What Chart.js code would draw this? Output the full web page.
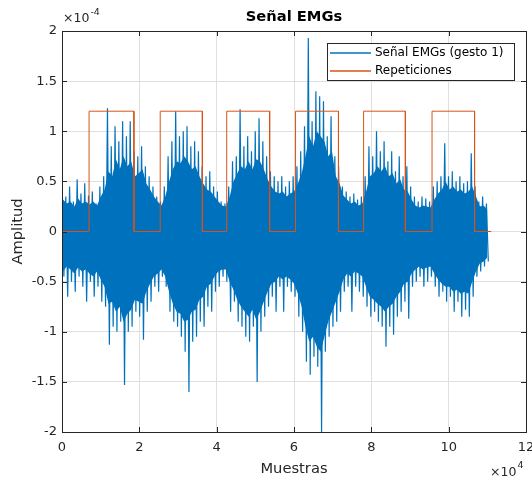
<!DOCTYPE html>
<html><head><meta charset="utf-8">
<script src="https://cdn.jsdelivr.net/npm/chart.js@4.4.1/dist/chart.umd.min.js"></script>
<style>html,body{margin:0;padding:0;background:#fff;}canvas{display:block;}</style>
</head><body>
<canvas id="c" width="532" height="480"></canvas>
<script>
// ---- data (amplitudes in units of 1e-4, x in samples) ----
const xTickLabels = [0, 2, 4, 6, 8, 10, 12];                 // ×10^4 samples
const yTickLabels = [-2, -1.5, -1, -0.5, 0, 0.5, 1, 1.5, 2];  // ×10^-4
const seriesNames = ['Señal EMGs (gesto 1)', 'Repeticiones'];
const sampleStep = 980;   // samples between successive envelope readings
const emgUpper = [0.58,0.35,0.45,0.30,0.52,0.38,0.48,0.36,0.40,0.28,
  0.45,0.55,1.23,0.85,1.05,0.90,1.10,0.95,1.10,0.80,
  0.75,0.85,0.65,0.55,0.45,0.35,0.30,0.45,0.75,0.90,
  1.20,0.95,1.00,1.05,0.85,0.90,0.80,0.65,0.55,0.60,
  0.45,0.40,0.30,0.28,0.45,0.70,0.75,1.22,0.85,0.95,
  0.80,1.00,1.13,0.90,0.75,0.60,0.55,0.50,0.55,0.45,
  0.50,0.55,0.65,0.80,1.05,1.93,1.10,1.40,1.35,1.30,
  0.95,1.15,0.75,0.65,0.45,0.40,0.35,0.38,0.32,0.35,
  0.55,0.85,0.75,1.00,0.80,0.90,0.70,0.80,0.60,0.75,
  0.55,0.65,0.45,0.35,0.30,0.35,0.33,0.30,0.45,0.50,
  0.55,0.88,0.55,0.60,0.50,0.55,0.48,0.50,0.78,0.45,
  0.30,0.35,0.28];
const emgLower = [-0.45,-0.65,-0.50,-0.60,-0.45,-0.55,-0.70,-0.50,-0.65,-0.55,
  -0.70,-0.75,-1.13,-0.95,-1.00,-0.90,-1.53,-1.00,-0.95,-0.80,
  -0.85,-1.08,-0.80,-0.70,-0.55,-0.60,-0.45,-0.55,-0.80,-0.90,
  -0.95,-1.05,-1.20,-1.60,-1.10,-1.05,-0.90,-0.95,-0.75,-0.80,
  -0.60,-0.55,-0.45,-0.50,-0.80,-0.70,-0.90,-0.95,-1.05,-1.10,
  -0.95,-1.50,-1.00,-0.85,-0.75,-0.65,-0.80,-0.55,-0.80,-0.55,
  -0.60,-0.65,-0.85,-1.00,-1.30,-1.43,-1.25,-1.35,-2.03,-1.20,
  -1.05,-0.95,-0.90,-0.80,-0.60,-0.55,-0.80,-0.55,-0.60,-0.65,
  -0.75,-0.85,-0.80,-0.90,-0.95,-1.15,-0.95,-1.03,-0.85,-0.80,
  -0.70,-0.87,-0.55,-0.50,-0.45,-0.55,-0.50,-0.45,-0.55,-0.65,
  -0.60,-0.70,-0.65,-0.80,-0.70,-0.85,-0.78,-0.85,-0.65,-0.45,
  -0.40,-0.35,-0.30];
// edge of the dense (solid-looking) part of the signal
const denseUpper = [0.32,0.28,0.30,0.25,0.33,0.28,0.30,0.27,0.30,0.26,
  0.35,0.42,0.60,0.55,0.72,0.62,0.75,0.65,0.70,0.55,
  0.58,0.62,0.48,0.42,0.35,0.30,0.26,0.35,0.50,0.62,
  0.70,0.68,0.75,0.70,0.62,0.65,0.55,0.48,0.42,0.40,
  0.35,0.30,0.26,0.25,0.35,0.50,0.58,0.65,0.62,0.70,
  0.62,0.72,0.70,0.62,0.52,0.45,0.40,0.38,0.40,0.35,
  0.38,0.40,0.48,0.58,0.75,0.95,0.85,1.00,0.95,0.90,
  0.75,0.80,0.55,0.48,0.36,0.32,0.28,0.30,0.26,0.28,
  0.40,0.55,0.58,0.65,0.60,0.65,0.55,0.58,0.48,0.52,
  0.42,0.40,0.32,0.26,0.24,0.26,0.25,0.24,0.32,0.38,
  0.42,0.50,0.42,0.45,0.40,0.42,0.38,0.40,0.45,0.35,
  0.25,0.26,0.22];
const denseLower = [-0.40,-0.35,-0.38,-0.42,-0.36,-0.40,-0.38,-0.42,-0.45,-0.40,
  -0.48,-0.55,-0.72,-0.70,-0.80,-0.75,-0.90,-0.82,-0.78,-0.68,
  -0.70,-0.72,-0.60,-0.52,-0.45,-0.42,-0.38,-0.45,-0.60,-0.72,
  -0.80,-0.82,-0.90,-0.88,-0.80,-0.78,-0.68,-0.65,-0.55,-0.52,
  -0.45,-0.40,-0.38,-0.38,-0.50,-0.58,-0.68,-0.75,-0.80,-0.85,
  -0.78,-0.88,-0.80,-0.70,-0.60,-0.52,-0.50,-0.45,-0.48,-0.45,
  -0.48,-0.52,-0.62,-0.75,-0.95,-1.10,-1.05,-1.15,-1.20,-1.05,
  -0.90,-0.80,-0.70,-0.60,-0.48,-0.42,-0.45,-0.40,-0.42,-0.45,
  -0.55,-0.65,-0.68,-0.72,-0.75,-0.80,-0.75,-0.72,-0.65,-0.60,
  -0.52,-0.50,-0.42,-0.38,-0.35,-0.38,-0.36,-0.35,-0.42,-0.48,
  -0.52,-0.55,-0.55,-0.60,-0.58,-0.62,-0.60,-0.62,-0.50,-0.40,
  -0.32,-0.30,-0.26];
const repStarts = [7000, 25400, 42600, 60400, 78000, 95700];
const repEnds   = [18600, 36300, 53700, 71500, 88800, 106700];
const repLevel = 1.2;
const signalEnd = 111000;

// ---- build library datasets from the arrays ----
const emgPoints = [];
emgUpper.forEach((u, i) => {
  emgPoints.push({x: i * sampleStep, y: u});
  emgPoints.push({x: i * sampleStep + sampleStep / 2, y: emgLower[i]});
});
const denseUpPts = denseUpper.map((v, i) => ({x: i * sampleStep + sampleStep / 4, y: v}));
const denseLoPts = denseLower.map((v, i) => ({x: i * sampleStep + sampleStep / 4, y: v}));
const repPoints = [{x: 0, y: 0}];
repStarts.forEach((s, k) => {
  repPoints.push({x: s, y: 0}, {x: s, y: repLevel}, {x: repEnds[k], y: repLevel}, {x: repEnds[k], y: 0});
});
repPoints.push({x: signalEnd, y: 0});

const BLUE = '#0072BD', ORANGE = '#D95319', AXC = '#262626';
const legendColors = [BLUE, ORANGE];
Chart.defaults.font.family = "'DejaVu Sans', sans-serif";
Chart.defaults.color = AXC;

const decor = {
  id: 'decor',
  afterDatasetsDraw(chart) {
    const {ctx, chartArea: {left, right, top, bottom}, scales: {x, y}} = chart;
    ctx.save();
    ctx.strokeStyle = AXC; ctx.lineWidth = 1;
    ctx.beginPath();
    x.ticks.forEach(t => {
      const px = Math.round(x.getPixelForValue(t.value)) + 0.5;
      ctx.moveTo(px, bottom); ctx.lineTo(px, bottom - 5);
      ctx.moveTo(px, top); ctx.lineTo(px, top + 5);
    });
    y.ticks.forEach(t => {
      const py = Math.round(y.getPixelForValue(t.value)) + 0.5;
      ctx.moveTo(left, py); ctx.lineTo(left + 5, py);
      ctx.moveTo(right, py); ctx.lineTo(right - 5, py);
    });
    ctx.stroke();
    ctx.strokeRect(Math.round(left) + 0.5, Math.round(top) + 0.5, Math.round(right - left), Math.round(bottom - top));

    // title
    ctx.fillStyle = '#000';
    ctx.font = "bold 14.7px 'DejaVu Sans'";
    ctx.textAlign = 'center'; ctx.textBaseline = 'middle';
    ctx.fillText('Señal EMGs', (left + right) / 2, 17);

    // exponents
    ctx.fillStyle = AXC; ctx.textAlign = 'left';
    ctx.font = "12.5px 'DejaVu Sans'";
    ctx.fillText('×10', 63, 19);
    let w = ctx.measureText('×10').width;
    ctx.font = "9.5px 'DejaVu Sans'";
    ctx.fillText('-4', 63 + w + 1, 13);
    ctx.font = "12.5px 'DejaVu Sans'";
    ctx.fillText('×10', 490, 473);
    w = ctx.measureText('×10').width;
    ctx.font = "9.5px 'DejaVu Sans'";
    ctx.fillText('4', 490 + w + 1, 466);

    // legend box
    const lx = 327, ly = 43, lw = 187, lh = 37;
    ctx.fillStyle = '#fff';
    ctx.fillRect(lx, ly, lw, lh);
    ctx.strokeStyle = AXC;
    ctx.strokeRect(lx + 0.5, ly + 0.5, lw, lh);
    ctx.font = "12px 'DejaVu Sans'";
    ctx.textBaseline = 'middle';
    seriesNames.forEach((name, k) => {
      const yy = Math.round(ly + 10 + k * 18);
      ctx.strokeStyle = legendColors[k];
      ctx.lineWidth = 1.5;
      ctx.beginPath(); ctx.moveTo(lx + 3, yy); ctx.lineTo(lx + 44, yy); ctx.stroke();
      ctx.fillStyle = '#000';
      ctx.fillText(name, lx + 48, yy);
    });
    ctx.restore();
  }
};

new Chart(document.getElementById('c'), {
  type: 'line',
  data: {
    datasets: [
      {label: seriesNames[1], data: repPoints, borderColor: ORANGE, borderWidth: 1, pointRadius: 0, fill: false, order: 0},
      {label: seriesNames[0], data: emgPoints, borderColor: BLUE, borderWidth: 1.2, pointRadius: 0, fill: false, order: 1},
      {label: 'dense+', data: denseUpPts, borderColor: 'rgba(0,0,0,0)', borderWidth: 0, pointRadius: 0, backgroundColor: BLUE, fill: '+1', order: 2},
      {label: 'dense-', data: denseLoPts, borderColor: 'rgba(0,0,0,0)', borderWidth: 0, pointRadius: 0, fill: false, order: 3}
    ]
  },
  options: {
    responsive: false, animation: false,
    layout: {padding: {top: 31, right: 6, left: 0, bottom: 0}},
    plugins: {legend: {display: false}, tooltip: {enabled: false}, title: {display: false}},
    elements: {line: {tension: 0}},
    scales: {
      x: {
        type: 'linear', min: 0, max: 120000,
        afterBuildTicks: s => { s.ticks = xTickLabels.map(v => ({value: v * 10000})); },
        afterFit: s => { s.height = 48; s.paddingLeft = 0; s.paddingRight = 0; },
        ticks: {callback: v => String(v / 10000), font: {size: 13}, color: AXC, padding: 8, maxRotation: 0, autoSkip: false},
        grid: {color: '#dfdfdf', drawTicks: false},
        border: {display: false},
        title: {display: true, text: 'Muestras', font: {size: 14.7}, color: AXC, padding: {top: 0, bottom: 2}}
      },
      y: {
        type: 'linear', min: -2, max: 2,
        afterBuildTicks: s => { s.ticks = yTickLabels.map(v => ({value: v})); },
        afterFit: s => { s.width = 62; s.paddingTop = 0; s.paddingBottom = 0; },
        ticks: {callback: v => String(v), font: {size: 13}, color: AXC, padding: 5, autoSkip: false},
        grid: {color: '#dfdfdf', drawTicks: false},
        border: {display: false},
        title: {display: true, text: 'Amplitud', font: {size: 14.7}, color: AXC, padding: {top: 9, bottom: 0}}
      }
    }
  },
  plugins: [decor]
});
</script>
</body></html>
